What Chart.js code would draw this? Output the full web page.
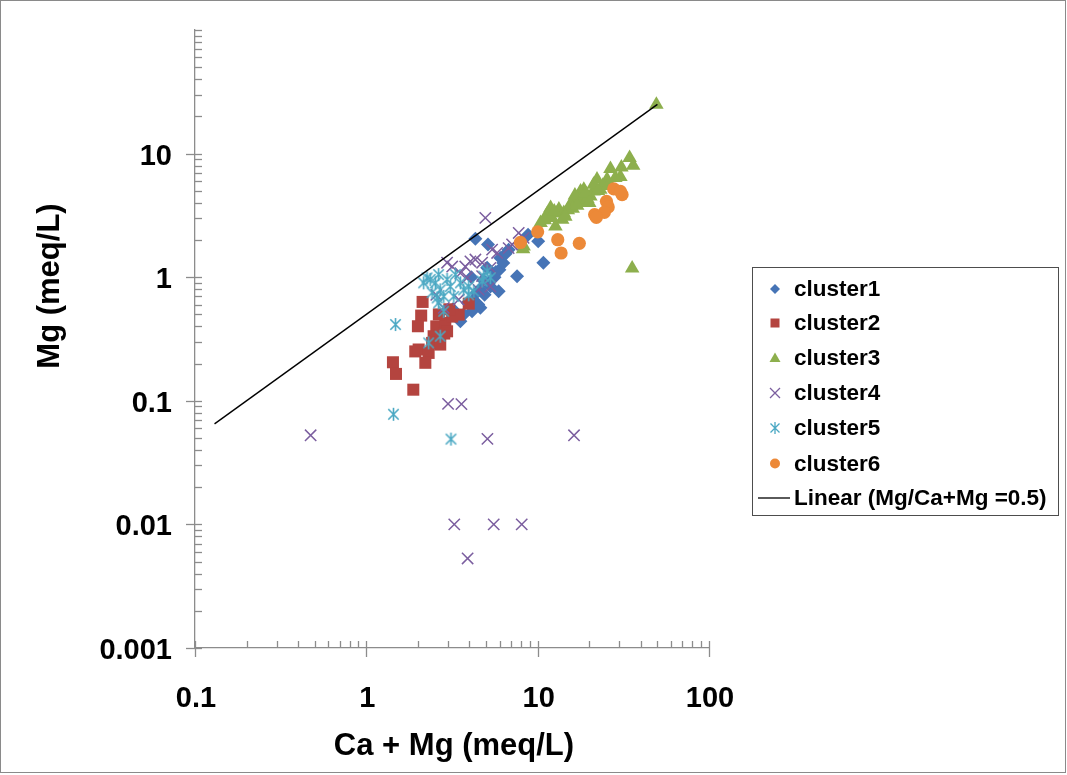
<!DOCTYPE html>
<html>
<head>
<meta charset="utf-8">
<script src="https://cdn.jsdelivr.net/npm/chart.js@4.4.1/dist/chart.umd.min.js"></script>
<style>
  html, body { margin: 0; padding: 0; background: #fff; }
  #wrap { width: 1067px; height: 775px; position: relative; }
</style>
</head>
<body>
<div id="wrap"><canvas id="c" width="1067" height="775"></canvas></div>
<script>
// ---- data: Ca + Mg (meq/L) vs Mg (meq/L) per cluster ----
const seriesNames = ['cluster1', 'cluster2', 'cluster3', 'cluster4', 'cluster5', 'cluster6'];
const lineName = 'Linear (Mg/Ca+Mg =0.5)';

const c1x = [4.33, 5.13, 6.06, 5.98, 7.58, 10.8, 8.79, 10.07, 5.92, 5.3, 4.63, 4.14, 3.54, 6.77, 5.07, 4.5, 3.9, 3.2, 4.4, 5.6, 3.7, 4.8, 6.3, 4.6, 5.2, 4.2, 3.4, 4.9, 5.7, 6.5, 4.1];
const c1y = [2.05, 1.84, 1.43, 1.15, 1.02, 1.31, 2.21, 1.95, 0.77, 0.84, 0.565, 0.53, 0.44, 1.67, 1.19, 0.6, 0.62, 0.55, 0.75, 1.0, 0.5, 0.95, 1.3, 0.8, 0.9, 0.65, 0.48, 0.72, 1.1, 1.55, 1.0];

const c2x = [2.13, 2.09, 2.0, 2.56, 2.89, 2.96, 2.47, 2.42, 2.7, 1.93, 2.02, 2.31, 2.21, 1.43, 1.49, 3.96, 3.46, 3.17, 1.88, 2.65, 3.05, 2.85];
const c2y = [0.631, 0.489, 0.401, 0.40, 0.427, 0.365, 0.333, 0.294, 0.285, 0.251, 0.26, 0.244, 0.203, 0.205, 0.165, 0.611, 0.498, 0.48, 0.123, 0.5, 0.55, 0.35];

const c3x = [49.3, 34.4, 36.1, 30.8, 26.6, 30.4, 22.2, 18.6, 25.4, 21.2, 16.6, 15.5, 11.9, 13.0, 14.2, 11.3, 13.9, 12.7, 10.4, 8.22, 35.6, 17.8, 17.8, 18.6, 20.3, 13.3, 12.1, 21.2, 28.4, 23.2, 8.28, 16.0, 19.5, 24.0, 12.5, 15.0, 16.5, 19.0, 20.0, 22.5, 26.0, 17.0, 14.5, 11.0];
const c3y = [24.9, 9.23, 8.0, 7.74, 7.52, 6.48, 6.17, 5.12, 6.17, 4.95, 4.11, 3.87, 3.64, 3.31, 3.31, 3.21, 2.93, 2.58, 2.75, 1.69, 1.18, 3.99, 4.95, 4.24, 4.52, 3.53, 3.02, 5.61, 6.36, 5.12, 1.78, 3.6, 4.3, 5.5, 3.4, 3.5, 4.6, 4.8, 4.0, 5.0, 5.6, 3.8, 3.1, 2.9];

const c4x = [0.473, 3.0, 3.59, 5.09, 16.3, 3.26, 5.54, 8.07, 3.9, 4.95, 7.75, 8.28, 7.09, 6.77, 5.42, 5.8, 4.33, 4.05, 4.74, 3.78, 5.3, 3.17, 2.96, 3.54, 3.88, 4.74, 5.3, 4.52, 3.46, 2.83, 2.56];
const c4y = [0.0526, 0.0944, 0.094, 0.0492, 0.0526, 0.01, 0.01, 0.01, 0.0053, 3.02, 2.28, 2.08, 1.84, 1.72, 1.67, 1.57, 1.39, 1.34, 1.31, 1.22, 1.19, 1.22, 1.31, 1.08, 0.99, 1.02, 0.84, 0.79, 0.66, 0.565, 0.72];

const c5x = [1.44, 3.12, 1.48, 2.26, 2.64, 2.53, 2.16, 2.96, 3.09, 2.7, 2.42, 2.59, 2.83, 3.24, 2.64, 2.83, 3.7, 3.96, 4.24, 3.96, 4.84, 5.07, 5.3, 4.74, 2.7, 2.31, 3.31, 3.54, 2.36];
const c5y = [0.0778, 0.049, 0.414, 0.987, 1.05, 0.9, 0.9, 0.96, 0.84, 0.79, 0.75, 0.68, 0.70, 0.70, 0.62, 0.53, 0.79, 0.84, 0.77, 0.72, 1.02, 1.12, 0.99, 0.93, 0.333, 0.294, 1.05, 0.9, 0.96];

const c6x = [27.8, 31.1, 30.4, 25.2, 25.8, 24.5, 21.5, 22.0, 13.1, 10.0, 7.93, 17.5, 13.7];
const c6y = [5.18, 4.65, 4.95, 4.11, 3.7, 3.35, 3.21, 3.05, 2.01, 2.33, 1.91, 1.88, 1.57];

// Mg = 0.5 (Ca + Mg) reference line end points
const lineX = [0.13, 50];
const lineY = [0.065, 25];

// axis ticks
const xMajor = [0.1, 1, 10, 100];
const xMajorLabels = ['0.1', '1', '10', '100'];
const yMajor = [0.001, 0.01, 0.1, 1, 10, 100];
const yMajorLabels = ['0.001', '0.01', '0.1', '1', '10', ''];

// ---- styling ----
const FONT = "'Liberation Sans', Arial, Helvetica, sans-serif";
const colors = ['#4674B6', '#B4443F', '#8DAF4D', '#7B5E9F', '#4AA8C3', '#EC8938'];
const AXIS = '#8c8c8c';

function zip(xs, ys) { return xs.map((x, i) => ({ x: x, y: ys[i] })); }

function minorTicks(majors) {
  const out = [];
  for (let i = 0; i < majors.length; i++) {
    out.push(majors[i]);
    if (i < majors.length - 1) {
      for (let k = 2; k <= 9; k++) out.push(majors[i] * k);
    }
  }
  return out;
}
function majorIndex(v, majors) {
  return majors.findIndex(m => Math.abs(Math.log10(v) - Math.log10(m)) < 1e-6);
}

// asterisk marker: X plus a vertical bar
function asteriskImage(color, size, lw) {
  const cv = document.createElement('canvas');
  cv.width = size; cv.height = size;
  const g = cv.getContext('2d');
  g.strokeStyle = color; g.lineWidth = lw; g.lineCap = 'butt';
  const m = size / 2, r = size / 2 - 1;
  const d = r * 0.8;
  g.beginPath();
  g.moveTo(m, m - r); g.lineTo(m, m + r);
  g.moveTo(m - d, m - d); g.lineTo(m + d, m + d);
  g.moveTo(m + d, m - d); g.lineTo(m - d, m + d);
  g.stroke();
  return cv;
}
const starImg = asteriskImage(colors[4], 15, 1.6);

const pointStyles = ['rectRot', 'rect', 'triangle', 'crossRot', starImg, 'circle'];
const pointRadii = [7, 8.5, 8.4, 8, 7, 6.6];
const xs = [c1x, c2x, c3x, c4x, c5x, c6x];
const ys = [c1y, c2y, c3y, c4y, c5y, c6y];

const datasets = seriesNames.map((name, i) => ({
  label: name,
  data: zip(xs[i], ys[i]),
  pointStyle: pointStyles[i],
  pointRadius: pointRadii[i],
  pointHoverRadius: pointRadii[i],
  backgroundColor: colors[i],
  borderColor: colors[i],
  borderWidth: i === 3 ? 1.5 : 0,
  showLine: false,
  order: 6 - i
}));
datasets.push({
  label: lineName,
  data: zip(lineX, lineY),
  showLine: true,
  pointRadius: 0,
  borderColor: '#000',
  borderWidth: 1.4,
  order: 0
});

// tick marks, tick labels, axis titles, legend and outer frame
const decor = {
  id: 'decor',
  afterDraw(chart) {
    const ctx = chart.ctx;
    const { left, right, top, bottom } = chart.chartArea;
    const sx = chart.scales.x, sy = chart.scales.y;
    ctx.save();
    ctx.strokeStyle = AXIS;
    ctx.lineWidth = 1.3;
    sx.ticks.forEach(t => {
      const p = Math.round(sx.getPixelForValue(t.value)) + 0.5;
      const maj = majorIndex(t.value, xMajor) >= 0;
      ctx.beginPath();
      ctx.moveTo(p, bottom - 7);
      ctx.lineTo(p, maj ? bottom + 9 : bottom);
      ctx.stroke();
    });
    sy.ticks.forEach(t => {
      const p = Math.round(sy.getPixelForValue(t.value)) + 0.5;
      const k = majorIndex(t.value, yMajor);
      const maj = k >= 0 && yMajorLabels[k] !== '';
      ctx.beginPath();
      ctx.moveTo(maj ? left - 9 : left, p);
      ctx.lineTo(left + 7, p);
      ctx.stroke();
    });

    // tick labels
    ctx.fillStyle = '#000';
    ctx.font = 'bold 29px ' + FONT;
    ctx.textBaseline = 'alphabetic';
    ctx.textAlign = 'center';
    xMajor.forEach((v, i) => {
      ctx.fillText(xMajorLabels[i], sx.getPixelForValue(v) + 1, 707);
    });
    ctx.textAlign = 'right';
    yMajor.forEach((v, i) => {
      if (yMajorLabels[i]) ctx.fillText(yMajorLabels[i], 172, sy.getPixelForValue(v) + 11);
    });

    // axis titles
    ctx.font = 'bold 31px ' + FONT;
    ctx.textAlign = 'center';
    ctx.fillText('Ca + Mg (meq/L)', (left + right) / 2 + 2, 755);
    ctx.save();
    ctx.translate(59, 286);
    ctx.rotate(-Math.PI / 2);
    ctx.fillText('Mg (meq/L)', 0, 0);
    ctx.restore();

    // legend box
    const lx = 752.5, ly = 267.5, lw = 306, lh = 248;
    ctx.fillStyle = '#fff';
    ctx.fillRect(lx, ly, lw, lh);
    ctx.strokeStyle = '#4d4d4d';
    ctx.lineWidth = 1;
    ctx.strokeRect(lx, ly, lw, lh);
    const rowY = [289, 323, 358, 393, 428, 463.5, 497.5];
    ctx.font = 'bold 22.5px ' + FONT;
    ctx.textAlign = 'left';
    ctx.textBaseline = 'middle';
    const mx = 775;
    seriesNames.forEach((name, i) => {
      const y = rowY[i];
      const c = colors[i];
      ctx.fillStyle = c; ctx.strokeStyle = c; ctx.lineWidth = 1.3;
      ctx.beginPath();
      if (i === 0) { ctx.moveTo(mx, y - 5); ctx.lineTo(mx + 5, y); ctx.lineTo(mx, y + 5); ctx.lineTo(mx - 5, y); ctx.closePath(); ctx.fill(); }
      else if (i === 1) { ctx.fillRect(mx - 4.5, y - 4.5, 9, 9); }
      else if (i === 2) { ctx.moveTo(mx, y - 5.5); ctx.lineTo(mx + 5.5, y + 4); ctx.lineTo(mx - 5.5, y + 4); ctx.closePath(); ctx.fill(); }
      else if (i === 3) { ctx.moveTo(mx - 5, y - 5); ctx.lineTo(mx + 5, y + 5); ctx.moveTo(mx + 5, y - 5); ctx.lineTo(mx - 5, y + 5); ctx.stroke(); }
      else if (i === 4) { ctx.moveTo(mx, y - 6); ctx.lineTo(mx, y + 6); ctx.moveTo(mx - 4.5, y - 4.5); ctx.lineTo(mx + 4.5, y + 4.5); ctx.moveTo(mx + 4.5, y - 4.5); ctx.lineTo(mx - 4.5, y + 4.5); ctx.stroke(); }
      else { ctx.arc(mx, y, 5, 0, Math.PI * 2); ctx.fill(); }
      ctx.fillStyle = '#000';
      ctx.fillText(name, 794, y + 1);
    });
    ctx.strokeStyle = '#000'; ctx.lineWidth = 1.3;
    ctx.beginPath(); ctx.moveTo(758, rowY[6] + 0.5); ctx.lineTo(790, rowY[6] + 0.5); ctx.stroke();
    ctx.fillStyle = '#000';
    ctx.fillText(lineName, 794, rowY[6] + 1);

    // outer chart frame
    ctx.strokeStyle = '#8a8a8a'; ctx.lineWidth = 1;
    ctx.strokeRect(0.5, 0.5, 1065, 772);
    ctx.restore();
  }
};

new Chart(document.getElementById('c'), {
  type: 'scatter',
  data: { datasets: datasets },
  options: {
    responsive: false,
    animation: false,
    devicePixelRatio: 1,
    layout: { padding: { top: 30, right: 358, bottom: 0, left: 0 } },
    plugins: { legend: { display: false }, tooltip: { enabled: false } },
    scales: {
      x: {
        type: 'logarithmic',
        position: 'bottom',
        min: 0.1, max: 100,
        grid: { display: false, drawTicks: false },
        border: { display: true, color: AXIS, width: 1.3 },
        afterBuildTicks: s => { s.ticks = minorTicks(xMajor).map(v => ({ value: v })); },
        afterFit: s => { s.height = 775 - 648; },
        ticks: { display: false }
      },
      y: {
        type: 'logarithmic',
        position: 'left',
        min: 0.001, max: 100,
        grid: { display: false, drawTicks: false },
        border: { display: true, color: AXIS, width: 1.3 },
        afterBuildTicks: s => { s.ticks = minorTicks(yMajor).map(v => ({ value: v })); },
        afterFit: s => { s.width = 195; },
        ticks: { display: false }
      }
    }
  },
  plugins: [decor]
});
</script>
</body>
</html>
